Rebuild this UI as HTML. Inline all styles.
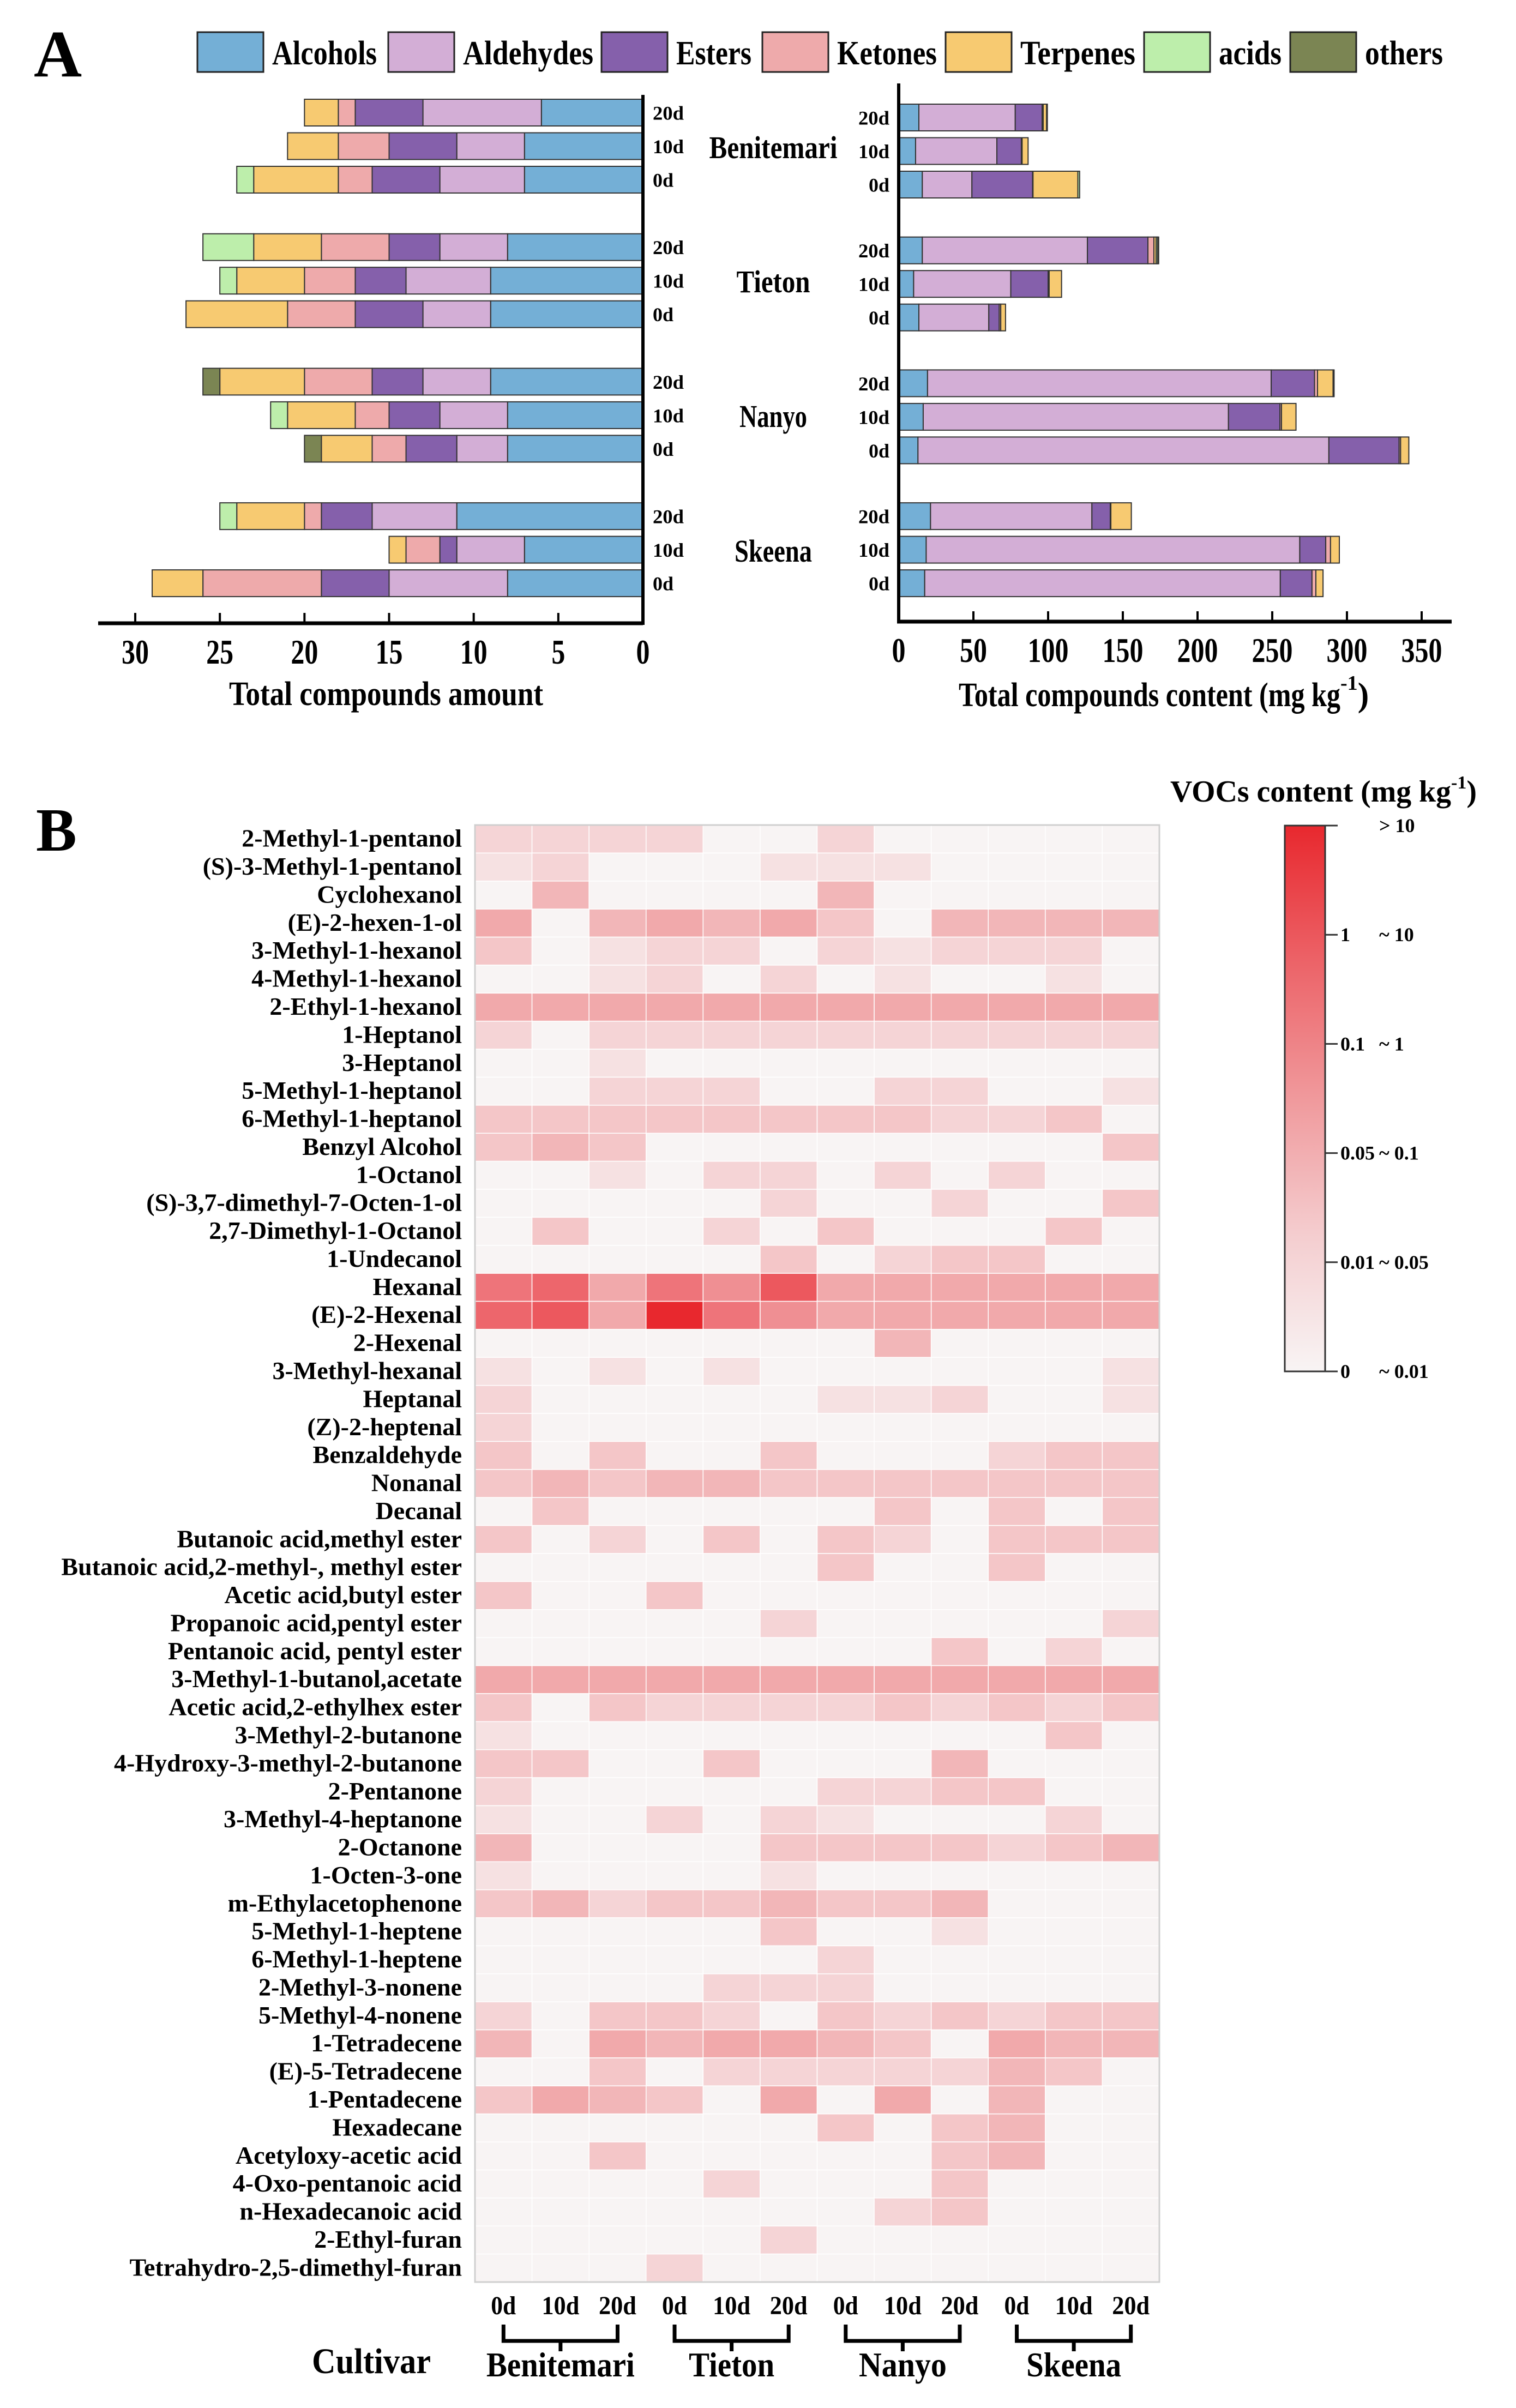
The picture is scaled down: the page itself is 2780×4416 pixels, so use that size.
<!DOCTYPE html>
<html><head><meta charset="utf-8"><style>
html,body{margin:0;padding:0;background:#fff;}
svg{display:block;}
text{font-family:"Liberation Serif","Times New Roman",serif;font-weight:bold;fill:#000;}
</style></head>
<body>
<svg id="fig" width="2780" height="4416" viewBox="0 0 2780 4416" xmlns="http://www.w3.org/2000/svg">
<defs>
<linearGradient id="cbGrad" x1="0" y1="1" x2="0" y2="0">
<stop offset="0" stop-color="#f8f4f4"/><stop offset="0.25" stop-color="#f4cdcf"/><stop offset="0.5" stop-color="#f0999c"/><stop offset="0.75" stop-color="#ec6368"/><stop offset="1" stop-color="#e8282e"/>
</linearGradient>
</defs>
<text x="62" y="140" font-size="122">A</text>
<text x="66" y="1560" font-size="112">B</text>
<g id="legendA"></g>
<g id="leftChart"></g>
<g id="rightChart"></g>
<g id="heatmap"></g>
<g id="colorbar"></g>
</svg>
<script>
const NS="http://www.w3.org/2000/svg";
// ---------- Panel A data ----------
const cultivars=['Benitemari','Tieton','Nanyo','Skeena'];
const days=['20d','10d','0d'];
const categories=['Alcohols','Aldehydes','Esters','Ketones','Terpenes','acids','others'];
// bar order: Benitemari 20d,10d,0d, Tieton 20d,10d,0d, Nanyo..., Skeena...
const alcoholsCount=[6,7,7,8,9,9,9,8,8,11,7,8];
const aldehydesCount=[7,4,5,4,5,4,4,4,3,5,4,7];
const estersCount=[4,4,4,3,3,4,3,3,3,3,1,4];
const ketonesCount=[1,3,2,4,3,4,4,2,2,1,2,7];
const terpenesCount=[2,3,5,4,4,6,5,4,3,4,1,3];
const acidsCount=[0,0,1,3,1,0,0,1,0,1,0,0];
const othersCount=[0,0,0,0,0,0,1,0,1,0,0,0];
const alcoholsContent=[13.5,11.3,15.8,15.8,10,13.5,19.3,16.4,12.9,21.3,18.4,17.4];
const aldehydesContent=[64.5,54.4,33.2,110.5,65,46.8,230,204.3,275,108,250,238];
const estersContent=[18,16.4,40.6,40.5,25,7,29,34.5,47,12.3,17.4,21.2];
const ketonesContent=[0.7,0.5,0.3,4,0.7,1,2,1,1,0.4,3.2,2.6];
const terpenesContent=[2.3,4,30,1.5,8.3,3.2,10.4,9.7,5.5,13.7,5.9,4.8];
const acidsContent=[0,0,1.2,1,0,0,0,0,0,0,0,0];
const othersContent=[0.5,0,0,0.7,0,0,0.7,0,0,0,0,0];
const leftTicks=[0,5,10,15,20,25,30];
const rightTicks=[0,50,100,150,200,250,300,350];
const catColors=['#74afd6','#d3aed6','#8560ab','#eeaaab','#f7ca71','#bdeeab','#7b8553'];

function mk(tag,attrs,parent,txt){const e=document.createElementNS(NS,tag);for(const k in attrs)e.setAttribute(k,attrs[k]);if(txt!==undefined)e.textContent=txt;parent.appendChild(e);return e;}

// legend
const legend=document.getElementById('legendA');
const legBoxX=[362,712,1103,1398,1734,2098,2366];
const legTextW=[192,239,138,183,211,115,143];
categories.forEach((c,i)=>{
  const g=mk('g',{},legend);
  
  
  mk('rect',{x:legBoxX[i],y:59,width:121,height:73,fill:catColors[i],stroke:'#222','stroke-width':3},g);
  mk('text',{x:legBoxX[i]+137,y:118,'font-size':62,textLength:legTextW[i],lengthAdjust:'spacingAndGlyphs'},g,c);
});

function barChart(gid,series,xScale,yTop,groupStep,barStep,barH,axisY,axisTop,axisX0,axisX1,ticks,labelX,labelAnchor,namePrefix){
  const root=document.getElementById(gid);
  for(let b=0;b<12;b++){
    const g=Math.floor(b/3),i=b%3;
    const y=yTop+g*groupStep+i*barStep;
    let cum=0;
    series.forEach((arr,s)=>{
      const v=arr[b]; if(v<=0)return;
      const x0=xScale(cum),x1=xScale(cum+v);
      const r=mk('rect',{x:Math.min(x0,x1),y:y,width:Math.abs(x1-x0),height:barH,fill:catColors[s],stroke:'#333','stroke-width':2},root);
      
      
      cum+=v;
    });
    const t=mk('text',{x:labelX,y:y+barH/2+13,'font-size':36,'text-anchor':labelAnchor,textLength:days[i].length*19,lengthAdjust:'spacingAndGlyphs'},root,days[i]);
    
    
  }
  const ax=mk('line',{x1:axisX0,y1:axisY,x2:axisX1,y2:axisY,stroke:'#000','stroke-width':7},root);
  
  
  ticks.forEach(tv=>{
    const x=xScale(tv);
    mk('line',{x1:x,y1:axisY,x2:x,y2:axisY-19,stroke:'#000','stroke-width':4},root);
    const s=String(tv);
    const t=mk('text',{x:x,y:axisY+74,'font-size':64,'text-anchor':'middle',textLength:s.length*25,lengthAdjust:'spacingAndGlyphs'},root,s);
    
    
  });
  return root;
}
// left chart
const lx0=1179,lx30=248;
const lScale=v=>lx0-(lx0-lx30)*v/30;
const left=barChart('leftChart',[alcoholsCount,aldehydesCount,estersCount,ketonesCount,terpenesCount,acidsCount,othersCount],lScale,182,246.7,61.5,49,1143,0,180,1179,leftTicks,1197,'start','amount');
mk('line',{x1:1179,y1:174,x2:1179,y2:1146,stroke:'#000','stroke-width':6},left);
const lt=mk('text',{x:708,y:1293,'font-size':62,'text-anchor':'middle',textLength:576,lengthAdjust:'spacingAndGlyphs'},left,'Total compounds amount');


// right chart
const rx0=1648,rx350=2607;
const rScale=v=>rx0+(rx350-rx0)*v/350;
const right=barChart('rightChart',[alcoholsContent,aldehydesContent,estersContent,ketonesContent,terpenesContent,acidsContent,othersContent],rScale,191,243.7,61.5,49,1140,0,1645,2662,rightTicks,1631,'end','content');
mk('line',{x1:1648,y1:153,x2:1648,y2:1143,stroke:'#000','stroke-width':6},right);
const rt=mk('text',{x:1758,y:1295,'font-size':62},right);


mk('tspan',{textLength:700,lengthAdjust:'spacingAndGlyphs'},rt,'Total compounds content (mg kg');
mk('tspan',{dy:-30,'font-size':38},rt,'-1');
mk('tspan',{dy:30},rt,')');
// cultivar labels between charts
const cultY=[290,536,783,1030];
const cultW=[235,135,124,142];
cultivars.forEach((c,g)=>{
  const t=mk('text',{x:1418,y:cultY[g],'font-size':58,'text-anchor':'middle',textLength:cultW[g],lengthAdjust:'spacingAndGlyphs'},document.getElementById('fig'),c);
  
  
});

// ---------- Panel B heatmap data ----------
const compounds=['2-Methyl-1-pentanol','(S)-3-Methyl-1-pentanol','Cyclohexanol','(E)-2-hexen-1-ol','3-Methyl-1-hexanol','4-Methyl-1-hexanol','2-Ethyl-1-hexanol','1-Heptanol','3-Heptanol','5-Methyl-1-heptanol','6-Methyl-1-heptanol','Benzyl Alcohol','1-Octanol','(S)-3,7-dimethyl-7-Octen-1-ol','2,7-Dimethyl-1-Octanol','1-Undecanol','Hexanal','(E)-2-Hexenal','2-Hexenal','3-Methyl-hexanal','Heptanal','(Z)-2-heptenal','Benzaldehyde','Nonanal','Decanal','Butanoic acid,methyl ester','Butanoic acid,2-methyl-, methyl ester','Acetic acid,butyl ester','Propanoic acid,pentyl ester','Pentanoic acid, pentyl ester','3-Methyl-1-butanol,acetate','Acetic acid,2-ethylhex ester','3-Methyl-2-butanone','4-Hydroxy-3-methyl-2-butanone','2-Pentanone','3-Methyl-4-heptanone','2-Octanone','1-Octen-3-one','m-Ethylacetophenone','5-Methyl-1-heptene','6-Methyl-1-heptene','2-Methyl-3-nonene','5-Methyl-4-nonene','1-Tetradecene','(E)-5-Tetradecene','1-Pentadecene','Hexadecane','Acetyloxy-acetic acid','4-Oxo-pentanoic acid','n-Hexadecanoic acid','2-Ethyl-furan','Tetrahydro-2,5-dimethyl-furan'];
const sampleLabels=['0d','10d','20d','0d','10d','20d','0d','10d','20d','0d','10d','20d'];
// content class (0 = ~0.01 ... 9 = >10), columns: Beni 0/10/20, Tieton 0/10/20, Nanyo 0/10/20, Skeena 0/10/20
const contentLevels=[
[2,2,2,2,0,0,2,0,0,0,0,0],
[1,2,0,0,0,1,1,1,0,0,0,0],
[0,4,0,0,0,0,4,0,0,0,0,0],
[5,0,4,5,4,5,3,0,4,4,4,4],
[3,0,1,2,2,0,2,1,2,2,2,0],
[0,0,1,2,0,2,0,1,0,0,1,0],
[5,5,5,5,5,5,5,5,5,5,5,5],
[2,0,2,2,2,2,2,2,2,2,2,2],
[0,0,1,0,0,0,0,0,0,0,0,0],
[0,0,2,2,2,0,0,2,2,0,0,1],
[3,3,3,3,3,3,3,3,2,2,3,0],
[3,4,3,0,0,0,0,0,0,0,0,3],
[0,0,1,0,2,2,0,2,0,2,0,0],
[0,0,0,0,0,2,0,0,2,0,0,3],
[0,3,0,0,2,0,3,0,0,0,3,0],
[0,0,0,0,0,3,0,2,3,3,0,0],
[7,7.5,5,7,6,8,5,5,5,5,5,5],
[7.5,8,5,9,7,6,5,5,5,5,5,5],
[0,0,0,0,0,0,0,4,0,0,0,0],
[1,0,1,0,1,0,0,0,0,0,0,1],
[2,0,0,0,0,0,1,1,2,0,0,1],
[2,0,0,0,0,0,0,0,0,0,0,0],
[3,0,3,0,0,3,0,0,0,2,3,3],
[3,4,3,4,4,3,3,3,3,3,3,3],
[0,3,0,0,0,0,0,3,0,3,0,3],
[3,0,2,0,3,0,3,2,0,3,3,3],
[0,0,0,0,0,0,3,0,0,3,0,0],
[3,0,0,3,0,0,0,0,0,0,0,0],
[0,0,0,0,0,2,0,0,0,0,0,2],
[0,0,0,0,0,0,0,0,3,0,2,0],
[5,5,5,5,5,5,5,5,5,5,5,5],
[3,0,3,2,2,2,2,3,2,3,2,3],
[1,0,0,0,0,0,0,0,0,0,3,0],
[3,3,0,0,3,0,0,0,4,0,0,0],
[2,0,0,0,0,0,2,2,3,3,0,0],
[1,0,0,2,0,2,1,0,0,0,2,0],
[4,0,0,0,0,3,3,3,3,2,3,4],
[1,0,0,0,0,1,0,0,0,0,0,0],
[3,4,2,3,3,4,3,3,4,0,0,0],
[0,0,0,0,0,3,0,0,1,0,0,0],
[0,0,0,0,0,0,2,0,0,0,0,0],
[0,0,0,0,2,2,2,0,0,0,0,0],
[2,0,3,3,2,0,3,2,3,2,3,3],
[4,0,5,4,5,5,4,3,0,5,4,4],
[0,0,3,0,2,2,2,2,2,4,3,0],
[3,5,4,3,0,5,0,5,0,4,0,0],
[0,0,0,0,0,0,3,0,3,4,0,0],
[0,0,3,0,0,0,0,0,3,4,0,0],
[0,0,0,0,2,0,0,0,3,0,0,0],
[0,0,0,0,0,0,0,2,3,0,0,0],
[0,0,0,0,0,2,0,0,0,0,0,0],
[0,0,0,2,0,0,0,0,0,0,0,0]
];
const colorbarTickLeft=['','1','0.1','0.05','0.01','0'];
const colorbarTickRight=['> 10','~ 10','~ 1','~ 0.1','~ 0.05','~ 0.01'];
const palette=['#f8f4f4','#f6e1e2','#f5d4d6','#f4c6c8','#f2b6b8','#f1a9ab','#ef8f93','#ee747a','#ec585e','#e8282e'];
function levelColor(v){const i=Math.floor(v),f=v-i;if(i>=9)return palette[9];
  const a=palette[i],b=palette[i+1];const p=(h,k)=>parseInt(h.substr(k,2),16);
  const c=[1,3,5].map(k=>Math.round(p(a,k)+(p(b,k)-p(a,k))*f));return 'rgb('+c.join(',')+')';}

const hm=document.getElementById('heatmap');
const hx0=871,hx1=2126,hy0=1513,hy1=4185;
const cw=(hx1-hx0)/12,rh=(hy1-hy0)/compounds.length;
const colX=c=>hx0+c*cw;
const rowY=r=>hy0+r*rh;
compounds.forEach((name,r)=>{
  const t=mk('text',{x:847,y:rowY(r)+rh/2+14,'font-size':46,'text-anchor':'end'},hm,name);
  
  
  contentLevels[r].forEach((v,c)=>{
    const cell=mk('rect',{x:colX(c),y:rowY(r),width:cw,height:rh,fill:levelColor(v),stroke:'#fff','stroke-width':1.5},hm);
    
    
  });
});
mk('rect',{x:hx0,y:hy0,width:hx1-hx0,height:hy1-hy0,fill:'none',stroke:'#cfcfcf','stroke-width':3},hm);
sampleLabels.forEach((s,c)=>{
  const t=mk('text',{x:colX(c)+cw/2,y:4244,'font-size':48,'text-anchor':'middle',textLength:s.length*23,lengthAdjust:'spacingAndGlyphs'},hm,s);
  
  
});
const hmNameW=[272,157,161,174];
cultivars.forEach((cv,g)=>{
  const xa=colX(g*3)+cw/2,xb=colX(g*3+2)+cw/2,xm=colX(g*3+1)+cw/2;
  const br=mk('path',{d:`M${xa},4263 V4293 H${xb} V4263 M${xm},4293 V4312`,fill:'none',stroke:'#000','stroke-width':7},hm);
  
  
  const t=mk('text',{x:xm,y:4358,'font-size':64,'text-anchor':'middle',textLength:hmNameW[g],lengthAdjust:'spacingAndGlyphs'},hm,cv);
  
  
});
const cvt=mk('text',{x:681,y:4352,'font-size':66,'text-anchor':'middle',textLength:218,lengthAdjust:'spacingAndGlyphs'},hm,'Cultivar');



// colorbar
const cb=document.getElementById('colorbar');
mk('rect',{x:2356,y:1514,width:74,height:1001,fill:'url(#cbGrad)',stroke:'#333','stroke-width':3},cb);
const cbTitle=mk('text',{x:2146,y:1470,'font-size':56},cb);


mk('tspan',{textLength:515,lengthAdjust:'spacingAndGlyphs'},cbTitle,'VOCs content (mg kg');
mk('tspan',{dy:-24,'font-size':34},cbTitle,'-1');
mk('tspan',{dy:24},cbTitle,')');
colorbarTickLeft.forEach((s,i)=>{
  const y=1514+i*200.2;
  mk('line',{x1:2430,y1:y,x2:2453,y2:y,stroke:'#333','stroke-width':3},cb);
  if(s){const t=mk('text',{x:2458,y:y+12,'font-size':36},cb,s);
    
    }
  const t2=mk('text',{x:2529,y:y+12,'font-size':36},cb,colorbarTickRight[i]);
  
  
});
</script>
</body></html>
